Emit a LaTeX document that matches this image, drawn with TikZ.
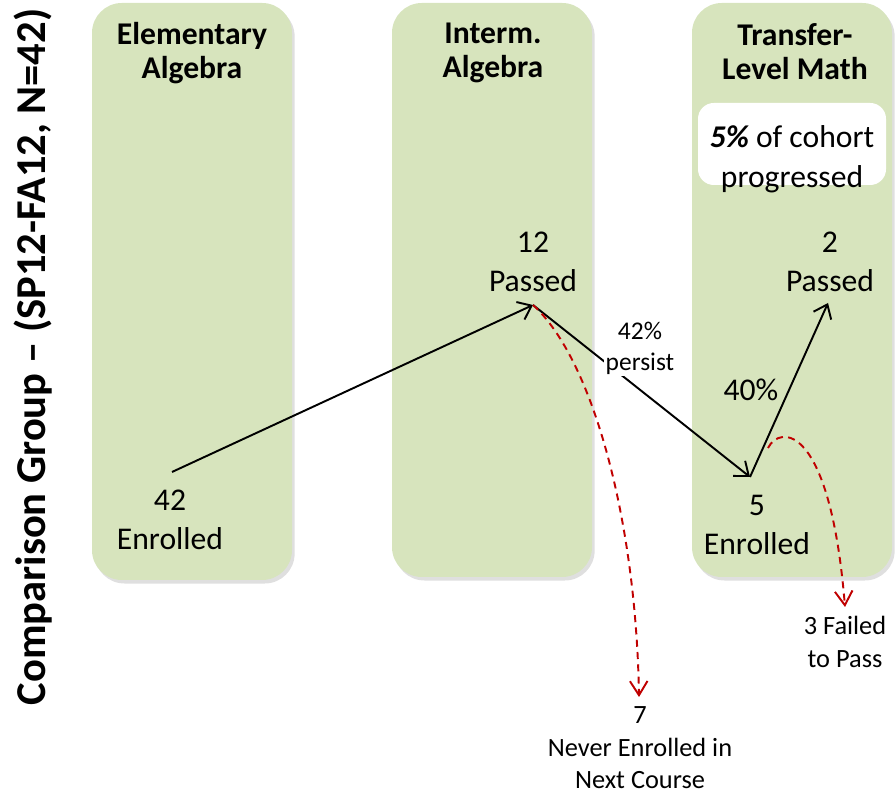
\documentclass[tikz,border=0pt]{standalone}
\usepackage{fontspec}
\setmainfont{Carlito}
\usetikzlibrary{arrows.meta,shadows}
\definecolor{colgreen}{HTML}{D7E4BD}
\definecolor{failred}{HTML}{C00000}
\tikzset{
  course/.style={fill=colgreen,rounded corners=17pt,drop shadow={shadow xshift=1.5pt,shadow yshift=-2pt,opacity=.25}},
  head/.style={font=\fontsize{18}{19.5}\selectfont\bfseries,align=center},
  count/.style={font=\fontsize{18}{22.5}\selectfont,align=center},
  small/.style={font=\fontsize{15}{18.5}\selectfont,align=center},
  flow/.style={line width=1.1pt,-{Straight Barb[length=7pt,width=11pt,line width=1.1pt]}},
  lost/.style={line width=1.1pt,failred,dash pattern=on 4pt off 3pt,-{Straight Barb[length=8pt,width=10pt,line width=1.1pt]}}
}
\begin{document}
\begin{tikzpicture}
\useasboundingbox (0,0) rectangle (17.9,15.88);
% course columns
\fill[course] (1.84,4.28) rectangle (5.84,15.82);
\fill[course] (7.84,4.34) rectangle (11.84,15.82);
\fill[course] (13.84,4.34) rectangle (17.84,15.82);
\fill[white,rounded corners=9pt] (13.96,12.18) rectangle (17.72,13.82);

\node[font=\fontsize{24.2}{26}\selectfont\bfseries,rotate=90] (title) at (0.66,8.74) {Comparison Group -- (SP12-FA12, N=42)};
\node[head] (elem) at (3.84,14.82) {Elementary\\Algebra};
\node[head] (interm) at (9.86,14.82) {Interm.\\Algebra};
\node[head] (transfer) at (15.9,14.85) {Transfer-\\Level Math};
\node[count] (cohort) at (15.84,12.7) {\textbf{\textit{5\%}} of cohort\\progressed};

\node[count] (enr42) at (3.4,5.48) {42\\Enrolled};
\node[count] (pass12) at (10.66,10.64) {12\\Passed};
\node[count] (enr5) at (15.14,5.38) {5\\Enrolled};
\node[count] (pass2) at (16.6,10.64) {2\\Passed};
\node[small] (never) at (12.8,0.92) {7\\Never Enrolled in\\Next Course};
\node[small] (failed) at (16.9,3.04) {3 Failed\\to Pass};

\coordinate (a42) at (3.44,6.44);
\coordinate (a12) at (10.66,9.78);
\coordinate (a5) at (15.0,6.34);
\coordinate (a2) at (16.56,9.82);
\coordinate (a7) at (12.78,1.94);
\coordinate (f5) at (15.36,6.92);
\coordinate (a3) at (16.9,3.74);

\draw[flow] (a42)--(a12);
\draw[flow] (a12)--(a5);
\draw[flow] (a5)--(a2);
\node[fill=white,inner sep=1pt,font=\fontsize{14.5}{17.5}\selectfont,align=center] (persist) at (12.8,8.92) {42\%\\persist};
\node[count] (rate) at (15.02,8.08) {40\%};
\draw[lost] (a12) .. controls (11.85,8.7) and (12.72,5.5) .. (a7);
\draw[lost] (f5) .. controls (15.6,7.4) and (16.6,7.4) .. (a3);
\end{tikzpicture}
\end{document}
